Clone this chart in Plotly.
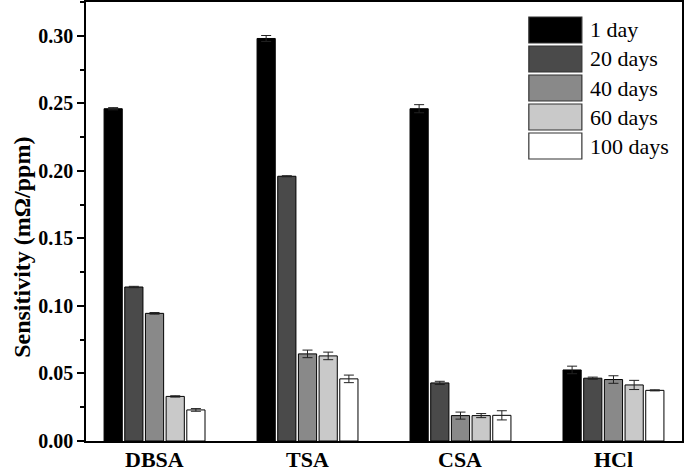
import plotly.graph_objects as go

categories = ["DBSA", "TSA", "CSA", "HCl"]
series_names = ["1 day", "20 days", "40 days", "60 days", "100 days"]
values = {
    "1 day":    [0.246, 0.298, 0.246, 0.0526],
    "20 days":  [0.114, 0.196, 0.043, 0.0465],
    "40 days":  [0.0945, 0.0645, 0.0188, 0.0455],
    "60 days":  [0.033, 0.063, 0.0188, 0.0415],
    "100 days": [0.023, 0.046, 0.019, 0.0375],
}
errors = {
    "1 day":    [0.0008, 0.0022, 0.003, 0.0028],
    "20 days":  [0.0005, 0.0004, 0.0012, 0.0008],
    "40 days":  [0.0006, 0.0028, 0.0026, 0.0028],
    "60 days":  [0.0005, 0.0028, 0.0015, 0.0034],
    "100 days": [0.001, 0.0028, 0.0034, 0.0004],
}
colors = ["#000000", "#4a4a4a", "#898989", "#c9c9c9", "#ffffff"]
y_ticks = [0.0, 0.05, 0.10, 0.15, 0.20, 0.25, 0.30]
y_title = "Sensitivity (mΩ/ppm)"

SERIF = "Liberation Serif, Times New Roman, serif"

fig = go.Figure()
for name, col in zip(series_names, colors):
    fig.add_trace(go.Bar(
        x=categories, y=values[name], name=name,
        marker=dict(color=col, line=dict(color="#000000", width=1)),
        error_y=dict(type="data", array=errors[name], visible=True,
                     color="#222222", thickness=1, width=5),
        showlegend=False,
    ))

# x category labels (placed as annotations to keep them inside the page)
for cat in categories:
    fig.add_annotation(x=cat, xref="x", yref="paper", y=0, yanchor="top",
                       yshift=-4, text=cat, showarrow=False,
                       font=dict(family=SERIF, size=22, color="#000000", weight="bold"))

# y-axis title
fig.add_annotation(xref="paper", yref="paper", x=0, y=0.44, xshift=-64,
                   xanchor="center", yanchor="middle", textangle=-90,
                   text=y_title, showarrow=False,
                   font=dict(family=SERIF, size=24, color="#000000", weight="bold"))

# custom legend with large swatches
sw_x0, sw_x1 = 0.743, 0.832
row_top_px = 17
row_pitch = 29
row_h = 26
plot_bottom_px, plot_h = 441, 439
for i, (name, col) in enumerate(zip(series_names, colors)):
    top = row_top_px + i * row_pitch
    y1 = (plot_bottom_px - top) / plot_h
    y0 = (plot_bottom_px - top - row_h) / plot_h
    fig.add_shape(type="rect", xref="paper", yref="paper",
                  x0=sw_x0, x1=sw_x1, y0=y0, y1=y1,
                  fillcolor=col, line=dict(color="#333333", width=1.2))
    fig.add_annotation(xref="paper", yref="paper", x=0.842, y=(y0 + y1) / 2,
                       text=name, showarrow=False, xanchor="left", yanchor="middle",
                       font=dict(family=SERIF, size=22, color="#000000"))

fig.update_layout(
    width=685, height=471,
    margin=dict(l=86, r=3, t=2, b=30, autoexpand=False),
    paper_bgcolor="white", plot_bgcolor="white",
    barmode="group", bargap=0.324, bargroupgap=0.12,
    font=dict(family=SERIF, color="#000000"),
)
fig.update_xaxes(
    range=[-0.448, 3.448], showline=True, linecolor="#000000", linewidth=1.5,
    mirror=True, ticks="", showgrid=False, showticklabels=False, automargin=False,
)
fig.update_yaxes(
    range=[0, 0.325], tickvals=y_ticks, tickformat=".2f", automargin=False,
    showline=True, linecolor="#000000", linewidth=1.5, mirror=True,
    ticks="outside", ticklen=7, tickwidth=1.5, tickcolor="#000000",
    minor=dict(dtick=0.025, ticks="outside", ticklen=4, tickwidth=1.5, tickcolor="#000000"),
    showgrid=False, zeroline=False,
    tickfont=dict(family=SERIF, size=20, color="#000000", weight="bold"),
)

fig.write_html("out.html", config={"displayModeBar": False},
               post_script="document.body.style.margin='0';document.body.style.overflow='hidden';")
